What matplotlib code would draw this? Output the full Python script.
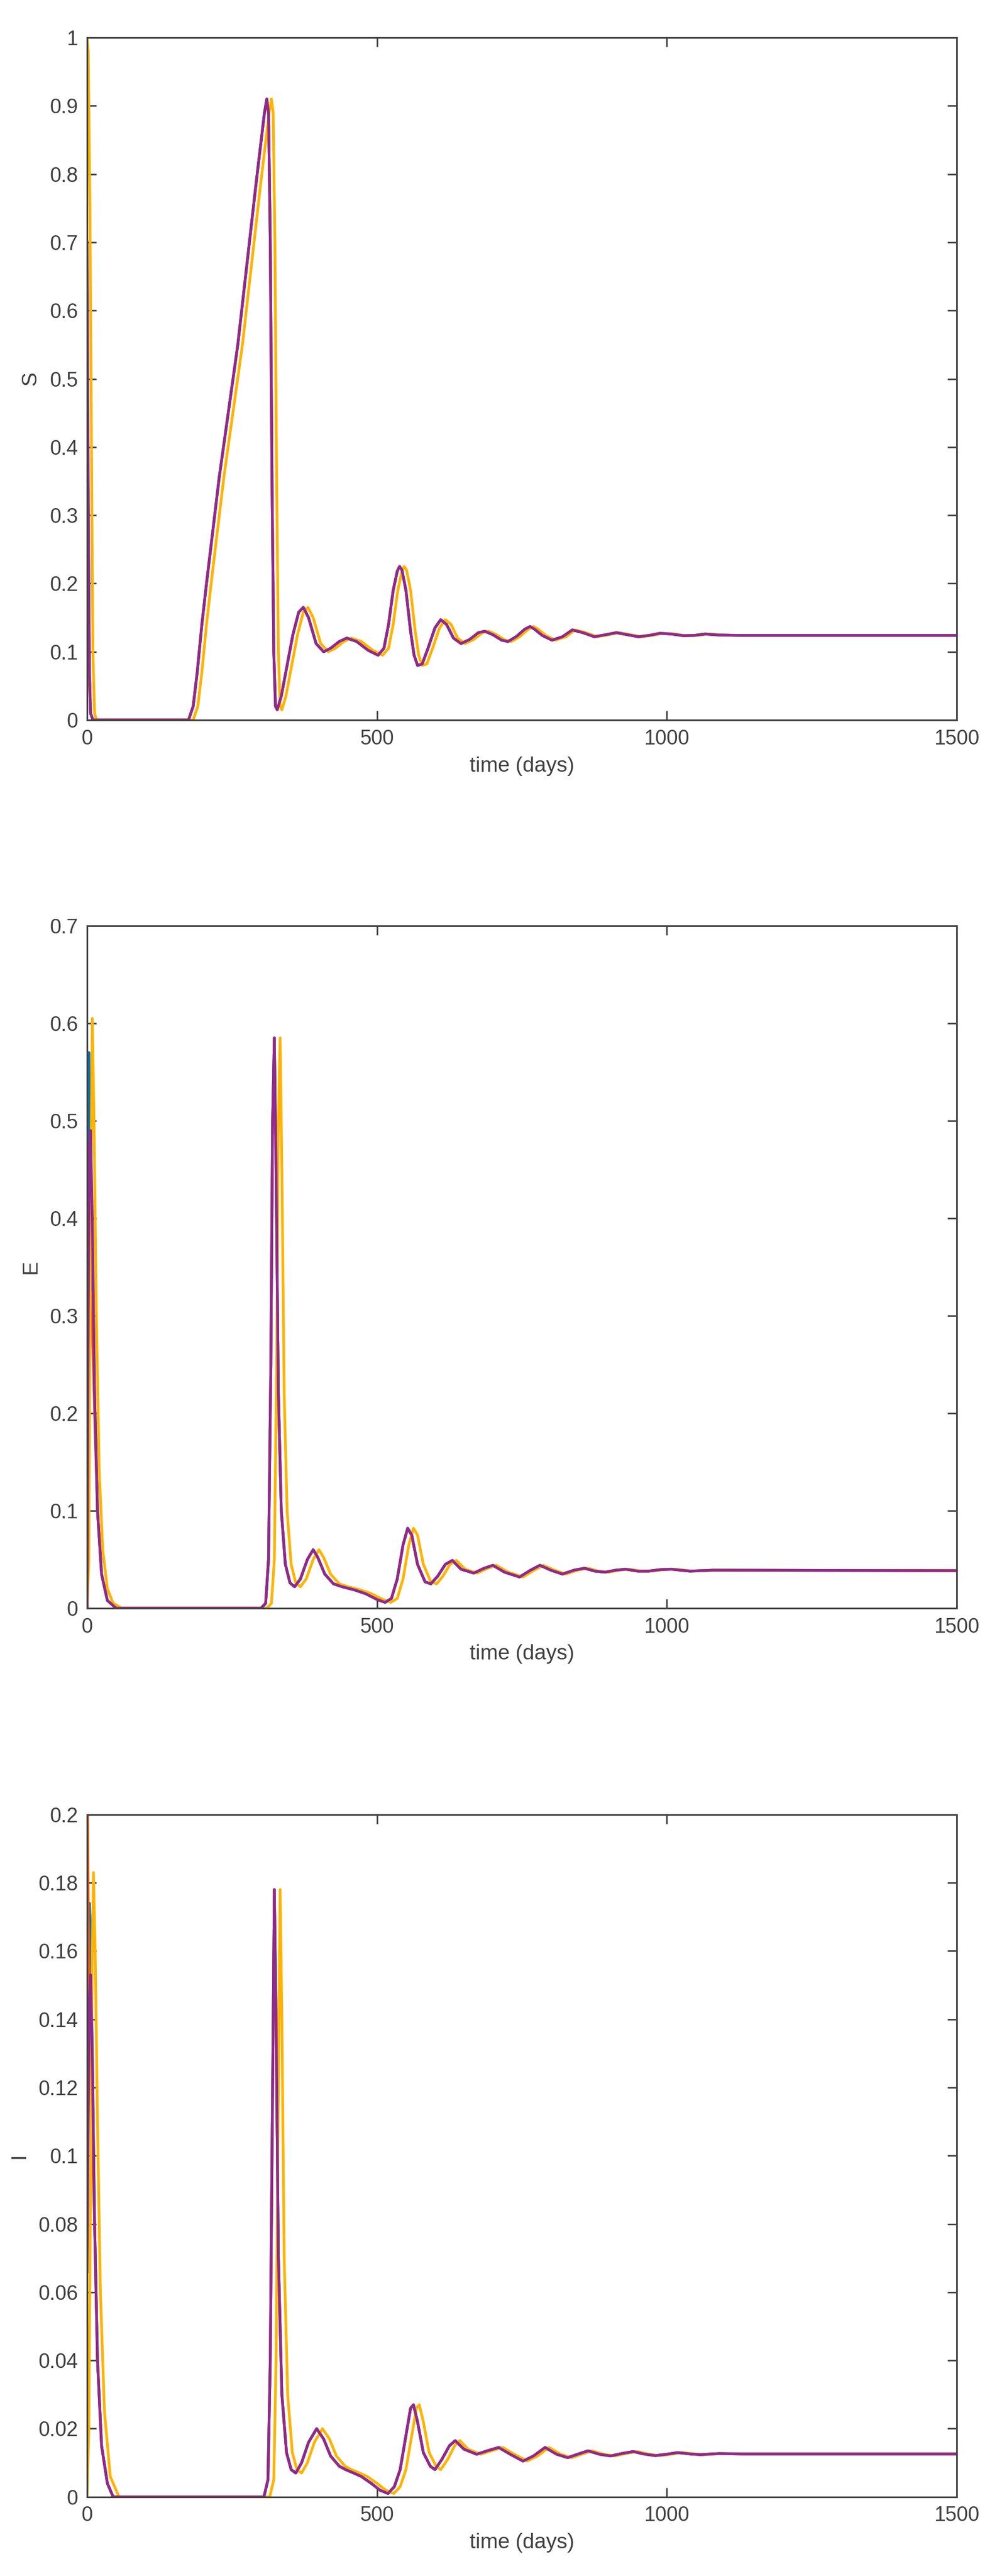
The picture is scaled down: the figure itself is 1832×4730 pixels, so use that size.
import matplotlib
matplotlib.use("Agg")
import matplotlib.pyplot as plt
from matplotlib.ticker import FuncFormatter, MultipleLocator

plt.rcParams['font.family'] = ['Liberation Sans', 'DejaVu Sans']

# ---------------- S ----------------
S_early_t = [0, 2, 4, 6, 10]
S_purple_early = [0.70, 0.35, 0.08, 0.01, 0]
S_blue_early = [0.55, 0.28, 0.07, 0.01, 0]
S_red_early = [0.45, 0.25, 0.06, 0.01, 0]
S_yellow_early_t = [0, 2, 5, 8, 10, 13, 16]
S_yellow_early = [1.0, 0.98, 0.75, 0.35, 0.1, 0.01, 0]
S_late_t = [175,183,190,198,206,228,260,292,306,310,313,316,319,322,325,328,335,345,355,365,
            373,382,395,408,420,435,448,465,485,502,512,520,528,535,539,543,550,558,564,570,
            578,588,600,610,620,632,645,660,675,686,700,715,726,740,755,764,772,785,802,820,
            837,855,875,895,913,932,951,970,988,1008,1029,1048,1066,1090,1120,1500]
S_yellow_late_t = [183,191,198,206,214,236,268,300,314,318,321,324,327,330,333,336,343,353,363,373,
                   381,390,403,416,428,443,456,473,493,510,520,528,536,543,547,551,558,566,572,578,
                   586,596,608,618,628,639,652,667,682,693,706,721,732,746,761,770,778,791,808,826,
                   842,860,880,900,918,937,956,975,993,1013,1034,1053,1071,1095,1125,1500]
S_late = [0,0.02,0.07,0.14,0.20,0.356,0.55,0.79,0.89,0.91,0.89,0.70,0.35,0.10,0.02,0.015,0.035,0.08,0.125,0.158,
          0.165,0.15,0.112,0.10,0.105,0.115,0.12,0.115,0.102,0.095,0.105,0.14,0.19,0.218,0.225,0.22,0.19,0.13,0.095,0.08,
          0.082,0.105,0.135,0.147,0.14,0.12,0.112,0.118,0.128,0.13,0.125,0.117,0.115,0.122,0.133,0.137,0.133,0.124,0.117,0.122,
          0.132,0.128,0.122,0.125,0.128,0.125,0.122,0.124,0.127,0.126,0.1235,0.124,0.126,0.1245,0.124,0.124]

# ---------------- E ----------------
E_early_t = [0, 2, 4, 6, 9, 13, 18, 25, 35]
E_purple_early = [0, 0.3, 0.47, 0.49, 0.40, 0.22, 0.10, 0.035, 0.008]
E_blue_early_t = [0, 1, 3, 5, 8, 13, 18, 25, 35]
E_blue_early = [0, 0.3, 0.57, 0.52, 0.38, 0.22, 0.10, 0.035, 0.008]
E_red_early_t = [0, 2, 4, 7, 10, 13, 18, 25, 35]
E_red_early = [0, 0.25, 0.33, 0.32, 0.27, 0.2, 0.10, 0.035, 0.008]
E_yellow_early_t = [0, 3, 6, 9, 12, 16, 21, 27, 35, 45]
E_yellow_early = [0, 0.05, 0.4, 0.605, 0.5, 0.3, 0.14, 0.06, 0.02, 0.005]
E_late_t = [50,300,308,313,317,320,323,326,330,335,342,350,358,368,380,390,398,410,425,440,
            460,480,500,514,525,535,545,553,560,570,583,593,605,618,630,645,667,685,700,720,
            746,765,781,800,820,840,858,876,894,912,929,950,968,988,1008,1040,1080,1500]
E_yellow_late_t = [60,310,318,323,327,330,333,336,340,345,352,360,368,378,390,400,408,420,435,450,
                   470,490,510,524,535,545,555,563,570,580,593,603,614,626,637,652,673,691,706,726,
                   752,771,787,806,826,846,864,882,900,918,935,956,974,994,1014,1046,1086,1500]
E_late = [0,0,0.005,0.05,0.25,0.50,0.585,0.45,0.22,0.10,0.045,0.026,0.022,0.03,0.05,0.06,0.052,0.035,0.025,0.022,
          0.019,0.015,0.009,0.006,0.01,0.03,0.065,0.082,0.075,0.045,0.027,0.025,0.033,0.045,0.049,0.04,0.036,0.041,0.044,0.037,
          0.032,0.039,0.044,0.039,0.035,0.039,0.041,0.038,0.037,0.039,0.040,0.038,0.038,0.0395,0.040,0.038,0.039,0.0385]

# ---------------- I ----------------
I_early_t = [0, 2, 4, 6, 9, 13, 18, 25, 35]
I_purple_early = [0.066, 0.11, 0.145, 0.153, 0.13, 0.08, 0.04, 0.015, 0.004]
I_blue_early = [0.09, 0.15, 0.174, 0.165, 0.13, 0.08, 0.04, 0.015, 0.004]
I_red_early_t = [0, 1, 2, 4, 7, 10, 13, 18, 25, 35]
I_red_early = [0.2, 0.2, 0.17, 0.14, 0.12, 0.10, 0.08, 0.04, 0.015, 0.004]
I_yellow_early_t = [0, 3, 6, 9, 11, 14, 18, 23, 30, 40]
I_yellow_early = [0, 0.02, 0.09, 0.16, 0.183, 0.16, 0.11, 0.06, 0.025, 0.006]
I_late_t = [45,305,312,316,320,323,326,330,336,344,352,360,370,382,396,408,420,435,446,460,
            473,490,505,519,530,540,550,558,563,570,580,592,600,612,625,635,650,672,690,710,
            730,752,770,790,810,829,846,864,884,903,922,942,960,980,1000,1019,1040,1058,1090,1130,1500]
I_yellow_late_t = [55,315,322,326,330,333,336,340,346,354,362,370,380,392,406,418,430,445,456,470,
                   483,500,515,529,540,550,560,568,573,580,590,602,610,622,634,643,657,679,697,717,
                   737,759,777,797,817,836,853,871,891,910,929,949,967,987,1007,1026,1047,1065,1097,1137,1500]
I_late = [0,0,0.005,0.04,0.12,0.178,0.14,0.07,0.03,0.013,0.008,0.007,0.01,0.016,0.020,0.017,0.012,0.009,0.008,0.007,
          0.006,0.004,0.002,0.001,0.003,0.008,0.018,0.026,0.027,0.022,0.013,0.009,0.008,0.011,0.015,0.0165,0.014,0.0125,0.0135,0.0145,
          0.0125,0.0105,0.012,0.0145,0.0125,0.0115,0.0125,0.0135,0.0125,0.012,0.0127,0.0133,0.0126,0.0121,0.0125,0.013,0.0126,0.0124,0.0127,0.0126,0.0126]

x_ticks = [0, 500, 1000, 1500]

BLUE, RED, YELLOW, PURPLE = '#0072BD', '#FF5500', '#FFB300', '#8E2A8E'
AX_COLOR = '#404040'

fig = plt.figure(figsize=(18.33, 47.30), dpi=100)
boxes = [0.7205, 0.3757, 0.0307]
H = 1253 / 4730
L, W = 160 / 1833, 1598 / 1833

panels = [
    dict(label='S', ymax=1.0, step=0.1,
         blue=(S_early_t + S_late_t, S_blue_early + S_late),
         red=(S_early_t + S_late_t, S_red_early + S_late),
         yellow=(S_yellow_early_t + S_yellow_late_t, S_yellow_early + S_late),
         purple=(S_early_t + S_late_t, S_purple_early + S_late)),
    dict(label='E', ymax=0.7, step=0.1,
         blue=(E_blue_early_t + E_late_t, E_blue_early + E_late),
         red=(E_red_early_t + E_late_t, E_red_early + E_late),
         yellow=(E_yellow_early_t + E_yellow_late_t, E_yellow_early + E_late),
         purple=(E_early_t + E_late_t, E_purple_early + E_late)),
    dict(label='I', ymax=0.2, step=0.02,
         blue=(I_early_t + I_late_t, I_blue_early + I_late),
         red=(I_red_early_t + I_late_t, I_red_early + I_late),
         yellow=(I_yellow_early_t + I_yellow_late_t, I_yellow_early + I_late),
         purple=(I_early_t + I_late_t, I_purple_early + I_late)),
]

fmt = FuncFormatter(lambda v, p: ('%g' % round(v, 4)))

for b, pnl in zip(boxes, panels):
    ax = fig.add_axes([L, b, W, H])
    for key, col in (('blue', BLUE), ('red', RED), ('yellow', YELLOW), ('purple', PURPLE)):
        t, v = pnl[key]
        ax.plot(t, v, color=col, lw=3.6, solid_joinstyle='round', clip_on=True)
    ax.set_xlim(0, 1500)
    ax.set_ylim(0, pnl['ymax'])
    ax.set_xticks(x_ticks)
    ax.yaxis.set_major_locator(MultipleLocator(pnl['step']))
    ax.yaxis.set_major_formatter(fmt)
    ax.xaxis.set_major_formatter(fmt)
    ax.tick_params(direction='in', top=True, right=True, length=12, width=2,
                   color=AX_COLOR, labelcolor=AX_COLOR, labelsize=27, pad=12)
    for s in ax.spines.values():
        s.set_color(AX_COLOR)
        s.set_linewidth(2.2)
    ax.set_xlabel('time (days)', fontsize=28, color=AX_COLOR, labelpad=10)
    ax.set_ylabel(pnl['label'], fontsize=28, color=AX_COLOR, labelpad=12)

fig.savefig('out.png', dpi=100, facecolor='white')
